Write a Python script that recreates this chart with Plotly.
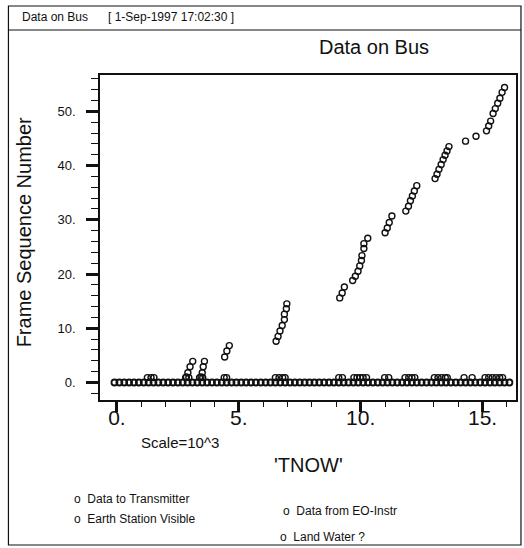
import plotly.graph_objects as go

# ---------------- data ----------------
# rising frame-sequence points
seq_x = [2.85, 2.91, 3.00, 3.11,
         3.45, 3.50, 3.54, 3.59,
         4.42, 4.51, 4.61,
         6.53, 6.61, 6.69, 6.78, 6.87, 6.87, 6.95, 6.97,
         9.14, 9.24, 9.33,
         9.67, 9.78, 9.89, 9.96, 10.03, 10.05, 10.13, 10.13, 10.29,
         11.00, 11.09, 11.17, 11.28,
         11.85, 11.96, 12.04, 12.12, 12.20, 12.30,
         13.05, 13.13, 13.21, 13.30, 13.38, 13.46, 13.54, 13.62,
         14.30, 14.73,
         15.16, 15.25, 15.33, 15.43, 15.52, 15.62, 15.71, 15.80, 15.90]
seq_y = [1.0, 1.8, 2.9, 3.9,
         1.0, 1.8, 2.9, 3.9,
         4.7, 5.8, 6.8,
         7.6, 8.5, 9.5, 10.5, 11.6, 12.6, 13.6, 14.5,
         15.6, 16.5, 17.6,
         18.8, 19.6, 20.5, 21.5, 22.5, 23.4, 24.7, 25.6, 26.6,
         27.6, 28.5, 29.5, 30.7,
         31.6, 32.5, 33.5, 34.4, 35.3, 36.3,
         37.6, 38.4, 39.3, 40.2, 41.1, 41.9, 42.7, 43.5,
         44.5, 45.4,
         46.4, 47.3, 48.2, 49.6, 50.5, 51.5, 52.4, 53.5, 54.4]

# flag points just above the baseline
flag_x = [1.25, 1.40, 1.52,
          2.82, 2.95,
          3.39, 3.52,
          4.40, 4.50,
          6.50, 6.65, 6.80, 6.90,
          9.10, 9.25,
          9.72, 9.85, 9.98, 10.10, 10.24,
          10.98, 11.15,
          11.82, 11.97, 12.10, 12.22,
          13.02, 13.17, 13.32, 13.47, 13.55,
          14.24, 14.57,
          15.10, 15.25, 15.40, 15.55, 15.70, 15.82]
flag_y = [0.9, 0.9, 0.9,
          0.9, 0.9,
          0.9, 0.9,
          0.9, 0.9,
          0.9, 0.9, 0.9, 0.9,
          0.9, 0.9,
          0.9, 0.9, 0.9, 0.9, 0.9,
          0.9, 0.9,
          0.9, 0.9, 0.9, 0.9,
          0.9, 0.9, 0.9, 0.9, 0.9,
          0.9, 0.9,
          0.9, 0.9, 0.9, 0.9, 0.9, 0.9]

# dense baseline samples at zero
base_x = [-0.1, 0.1, 0.3, 0.5, 0.7, 0.9, 1.1, 1.3, 1.5, 1.7, 1.9,
          2.1, 2.3, 2.5, 2.7, 2.9, 3.1, 3.3, 3.5, 3.7, 3.9,
          4.1, 4.3, 4.5, 4.7, 4.9, 5.1, 5.3, 5.5, 5.7, 5.9,
          6.1, 6.3, 6.5, 6.7, 6.9, 7.1, 7.3, 7.5, 7.7, 7.9,
          8.1, 8.3, 8.5, 8.7, 8.9, 9.1, 9.3, 9.5, 9.7, 9.9,
          10.1, 10.3, 10.5, 10.7, 10.9, 11.1, 11.3, 11.5, 11.7, 11.9,
          12.1, 12.3, 12.5, 12.7, 12.9, 13.1, 13.3, 13.5, 13.7, 13.9,
          14.1, 14.3, 14.5, 14.7, 14.9, 15.1, 15.3, 15.5, 15.7, 15.9, 16.1]
base_y = [0, 0, 0, 0, 0, 0, 0, 0, 0, 0, 0,
          0, 0, 0, 0, 0, 0, 0, 0, 0, 0,
          0, 0, 0, 0, 0, 0, 0, 0, 0, 0,
          0, 0, 0, 0, 0, 0, 0, 0, 0, 0,
          0, 0, 0, 0, 0, 0, 0, 0, 0, 0,
          0, 0, 0, 0, 0, 0, 0, 0, 0, 0,
          0, 0, 0, 0, 0, 0, 0, 0, 0, 0,
          0, 0, 0, 0, 0, 0, 0, 0, 0, 0, 0]

legend_names = ["Data to Transmitter", "Earth Station Visible",
                "Data from EO-Instr", "Land Water ?"]

# ---------------- layout helpers (pixel -> paper) ----------------
W, H = 524, 548
L, R, T, B = 100, 518, 75, 400
def px(x):
    return (x - L) / (R - L)
def py(y):
    return (B - y) / (B - T)

FONT = "Liberation Sans, Arial, Helvetica, sans-serif"
INK = "#111111"

marker = dict(symbol="circle-open", size=6, color=INK, line=dict(width=1.4, color=INK))
base_marker = dict(symbol="circle-open", size=6, color=INK, line=dict(width=1.8, color=INK))

fig = go.Figure()
fig.add_trace(go.Scatter(x=base_x, y=base_y, mode="markers", marker=base_marker,
                         name=legend_names[2], showlegend=False, cliponaxis=False))
fig.add_trace(go.Scatter(x=flag_x, y=flag_y, mode="markers", marker=marker,
                         name=legend_names[1], showlegend=False, cliponaxis=False))
fig.add_trace(go.Scatter(x=seq_x, y=seq_y, mode="markers", marker=marker,
                         name=legend_names[0], showlegend=False, cliponaxis=False))

axis_common = dict(showgrid=False, zeroline=False, showline=True, linecolor=INK,
                   linewidth=1.5, mirror=True, ticks="outside", tickcolor=INK,
                   ticksuffix=".", tickmode="linear", tick0=0)

fig.update_xaxes(**axis_common, range=[-0.694, 16.37], dtick=5,
                 ticklen=10, tickwidth=3, ticklabelstandoff=-12,
                 tickfont=dict(family=FONT, size=21, color=INK),
                 minor=dict(ticks="outside", dtick=1, tick0=0, ticklen=5,
                            tickwidth=1, tickcolor=INK, showgrid=False))
fig.update_yaxes(**axis_common, range=[-3.23, 56.7], dtick=10,
                 ticklen=12, tickwidth=3, ticklabelstandoff=8,
                 tickfont=dict(family=FONT, size=13, color=INK),
                 minor=dict(ticks="outside", dtick=2, tick0=0, ticklen=7,
                            tickwidth=1, tickcolor=INK, showgrid=False))

def ann(text, x, y, size, xanchor="center", yanchor="middle", angle=0):
    fig.add_annotation(text=text, x=px(x), y=py(y), xref="paper", yref="paper",
                       xanchor=xanchor, yanchor=yanchor, showarrow=False,
                       textangle=angle, font=dict(family=FONT, size=size, color=INK))

# header
ann("Data on Bus", 20, 17, 12, xanchor="left")
ann("[ 1-Sep-1997 17:02:30 ]", 106, 17, 12, xanchor="left")
# titles
ann("Data on Bus", 375, 47, 20)
ann("Frame Sequence Number", 24, 232, 20, angle=-90)
ann("Scale=10^3", 180, 442, 15)
ann("'TNOW'", 309, 465, 20)
# legend
ann("o  " + legend_names[0], 72, 499, 12, xanchor="left")
ann("o  " + legend_names[1], 72, 519, 12, xanchor="left")
ann("o  " + legend_names[2], 282, 511, 12, xanchor="left")
ann("o  " + legend_names[3], 279, 537, 12, xanchor="left")

# page frame and header rule
fig.add_shape(type="rect", xref="paper", yref="paper",
              x0=px(8), x1=px(523), y0=py(545), y1=py(6),
              line=dict(color=INK, width=1.2))
fig.add_shape(type="line", xref="paper", yref="paper",
              x0=px(8), x1=px(523), y0=py(30), y1=py(30),
              line=dict(color=INK, width=1.2))

fig.update_layout(width=W, height=H, autosize=False,
                  margin=dict(l=L, r=W - R, t=T, b=H - B),
                  paper_bgcolor="white", plot_bgcolor="white",
                  showlegend=False)

fig.write_html("out.html",
               config={"displayModeBar": False},
               post_script="document.body.style.margin='0';document.body.style.overflow='hidden';")
